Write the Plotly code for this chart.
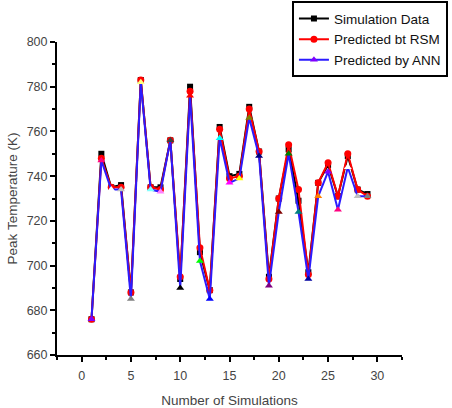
import plotly.graph_objects as go

runs = list(range(1, 30))
sim = [676, 750, 735, 736, 688, 783, 735, 735, 756, 694, 780, 706, 689, 762, 740,
       741, 771, 751, 695, 730, 752, 729, 697, 737, 745, 731, 749, 734, 732]
rsm = [676, 748, 735, 735, 688, 783, 735, 734, 756, 695, 778, 708, 689, 761, 739,
       740, 770, 751, 694, 730, 754, 734, 696, 737, 746, 731, 750, 734, 731]
ann = [676, 747, 734, 734, 685, 782, 734, 733, 756, 690, 776, 702, 685, 757, 737,
       739, 766, 749, 691, 724, 750, 724, 694, 731, 742, 725, 744, 731, 731]

# Origin-style per-point colour cycle for the ANN markers
cycle = ["#000000", "#FF0000", "#00FF00", "#0000FF", "#00FFFF", "#FF00FF", "#FFFF00",
         "#808000", "#000080", "#800080", "#800000", "#008000", "#008080", "#0000A0",
         "#FF8000", "#8000FF", "#FF0080", "#FFFFFF", "#C0C0C0", "#808080", "#FFFF80",
         "#80FFFF", "#FF80FF", "#404040"]
ann_colors = [cycle[(p - 10) % len(cycle)] for p in runs]

font_family = "Liberation Sans, Arial, sans-serif"

fig = go.Figure()
fig.add_trace(go.Scatter(x=runs, y=sim, mode="lines+markers", name="Simulation Data",
                         line=dict(color="black", width=2),
                         marker=dict(symbol="square", size=6, color="black")))
fig.add_trace(go.Scatter(x=runs, y=rsm, mode="lines+markers", name="Predicted bt RSM",
                         line=dict(color="red", width=2),
                         marker=dict(symbol="circle", size=7, color="red")))
fig.add_trace(go.Scatter(x=runs, y=ann, mode="lines+markers", name="Predicted by ANN",
                         line=dict(color="#2B1BFF", width=2),
                         marker=dict(symbol="triangle-up", size=7, color=ann_colors,
                                     line=dict(width=0))))

axis_common = dict(showgrid=False, zeroline=False, showline=True, linecolor="black",
                   linewidth=2, ticks="outside", ticklen=5, tickwidth=1.5, tickcolor="black",
                   tickfont=dict(size=12.5, color="#444444", family=font_family),
                   mirror=False, automargin=False)

fig.update_xaxes(range=[-2.5, 32.5], tick0=0, dtick=5, ticklabelstandoff=3,
                 minor=dict(ticks="outside", ticklen=3, tickwidth=1.5, tickcolor="black", dtick=2.5),
                 title=dict(text="Number of Simulations", font=dict(size=13.5, color="#444444", family=font_family),
                            standoff=14),
                 **axis_common)
fig.update_yaxes(range=[660, 800], tick0=660, dtick=20,
                 minor=dict(ticks="outside", ticklen=3, tickwidth=1.5, tickcolor="black", dtick=10),
                 title=dict(text="Peak Temperature (K)", font=dict(size=13.5, color="#444444", family=font_family),
                            standoff=6),
                 **axis_common)

fig.update_layout(
    width=452, height=408,
    margin=dict(l=57, r=50, t=42, b=53, autoexpand=False),
    plot_bgcolor="white", paper_bgcolor="white",
    font=dict(family=font_family, size=12, color="#222222"),
    legend=dict(x=0.681, y=1.13, xanchor="left", yanchor="top",
                bordercolor="black", borderwidth=2, bgcolor="white",
                font=dict(size=13.5, color="#111111", family=font_family),
                tracegroupgap=0, itemwidth=30),
    showlegend=True,
)

fig.write_html("out.html")
